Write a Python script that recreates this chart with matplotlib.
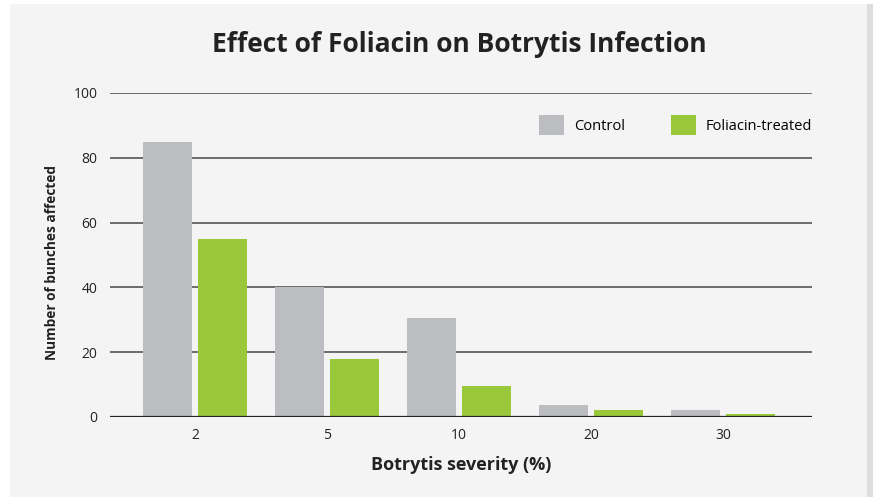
import numpy as np
import matplotlib
matplotlib.use("Agg")
import matplotlib.pyplot as plt
from matplotlib.patches import Rectangle

categories = ["2", "5", "10", "20", "30"]
control = [85, 40, 30.5, 3.7, 2.2]
treated = [55, 18, 9.5, 2.2, 1.0]
series_names = ["Control", "Foliacin-treated"]

plt.rcParams['font.family'] = ['Open Sans', 'DejaVu Sans']

fig = plt.figure(figsize=(8.73, 4.97), dpi=100)
fig.patch.set_facecolor('white')
# light panel behind the chart
fig.patches.append(Rectangle((10/873, 0), 857/873, 1 - 4/497, transform=fig.transFigure,
                             facecolor='#f4f4f4', edgecolor='none', zorder=-2))
fig.patches.append(Rectangle((867/873, 0), 6/873, 1 - 4/497, transform=fig.transFigure,
                             facecolor='#dedede', edgecolor='none', zorder=-2))

ax = fig.add_axes([110/873, 1 - 417/497, 702/873, 324/497])
ax.set_facecolor('none')

x = np.arange(len(categories))
w = 0.371
off = 0.208
ax.bar(x - off, control, w, color='#bcbdc0', label=series_names[0], zorder=2)
ax.bar(x + off, treated, w, color='#99c93b', label=series_names[1], zorder=2)

ax.set_xlim(-0.644, 4.674)
ax.set_ylim(0, 100)
ax.set_yticks([0, 20, 40, 60, 80, 100])
ax.set_xticks(x)
ax.set_xticklabels(categories)
ax.yaxis.grid(True, color='#555555', linewidth=1.2, zorder=1)
ax.axhline(0, color='#222222', linewidth=1.6, zorder=3)
for s in ax.spines.values():
    s.set_visible(False)
ax.tick_params(axis='both', length=0, labelsize=10, colors='#222222')
ax.tick_params(axis='y', pad=9)
ax.tick_params(axis='x', pad=8)

ax.set_xlabel("Botrytis severity (%)", fontsize=13, fontweight='bold', color='#222222', labelpad=9)
ax.set_ylabel("Number of bunches affected", fontsize=9.8, fontweight='bold', color='#222222')
ax.yaxis.set_label_coords(-(110 - 59) / 702, (417 - 263) / 324)

fig.text(459/873, 1 - 44/497, "Effect of Foliacin on Botrytis Infection", ha='center', va='center',
         fontsize=19, fontweight='bold', color='#222222')

leg = ax.legend(loc='center right', bbox_to_anchor=(1.0, 0.901), ncol=2, frameon=False,
                fontsize=10.5, handlelength=1.72, handleheight=1.72, columnspacing=3.1,
                handletextpad=0.68, borderaxespad=0, borderpad=0)

fig.savefig("out.png", dpi=100, facecolor=fig.get_facecolor())
